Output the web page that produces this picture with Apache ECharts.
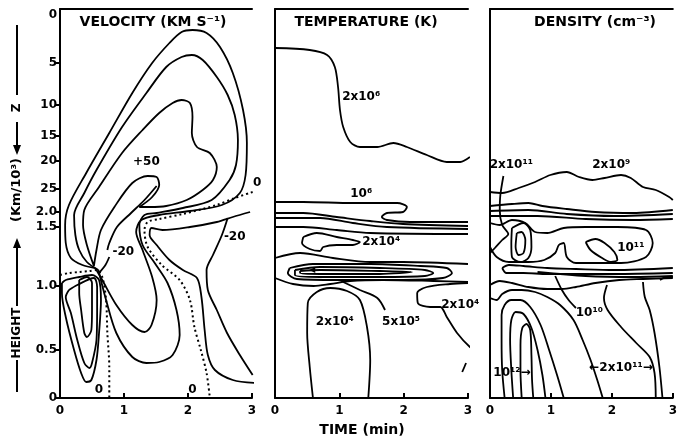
<!DOCTYPE html>
<html><head><meta charset="utf-8">
<script src="https://cdn.jsdelivr.net/npm/echarts@6/dist/echarts.min.js"></script>
<style>html,body{margin:0;padding:0;background:#fff}#c{width:680px;height:439px}</style>
</head><body><div id="c"></div>
<script>
// ---------- axis ticks ----------
const timeTicks = [0, 1, 2, 3];
// vertical coordinate (column units, bottom = 0); labels: height (km/10^3) below, Z above
const yTickPos    = [0, 48, 112, 171, 186, 209, 237, 262, 293, 335, 383];
const yTickLabels = ['0','0.5','1.0','1.5','2.0','25','20','15','10','5','0'];
const yTickMarks  = [0, 48, 112, 171, 186, 209, 237, 262, 293, 335];

// ---------- VELOCITY contours [time(min), column coord] ----------
const velA = [[0.55,130],[0.35,133],[0.17,140],[0.09,155],[0.08,173],[0.14,193],[0.41,225],[0.77,265],[1.13,305],[1.44,335],[1.71,355],[1.90,366],[2.07,368],[2.29,365],[2.50,351],[2.70,325],[2.86,288],[2.92,255],[2.90,223],[2.81,205],[2.53,193],[2.03,187],[1.55,183],[1.27,178],[1.19,166],[1.29,148],[1.44,121],[1.51,98],[1.43,73],[1.32,66],[1.13,73],[0.88,93],[0.66,118],[0.55,130]];
const velB = [[0.60,128],[0.42,136],[0.30,148],[0.24,163],[0.22,183],[0.38,205],[0.57,228],[0.97,271],[1.35,305],[1.66,331],[1.90,341],[2.06,343],[2.23,338],[2.45,321],[2.62,303],[2.73,283],[2.78,258],[2.75,233],[2.65,218],[2.37,198],[1.92,190],[1.51,185],[1.32,183],[1.24,173],[1.29,153],[1.48,135],[1.68,115],[1.82,88],[1.87,63],[1.76,43],[1.55,36],[1.35,35],[1.13,41],[0.88,65],[0.72,98],[0.60,128]];
const velPlus50 = [[0.53,132],[0.42,153],[0.36,173],[0.38,188],[0.61,211],[0.97,245],[1.29,268],[1.55,285],[1.76,295],[1.90,298],[2.03,295],[2.07,281],[2.06,265],[2.14,251],[2.34,245],[2.45,231],[2.39,218],[2.23,208],[1.98,198],[1.66,192],[1.40,191],[1.24,191],[1.44,201],[1.55,213],[1.51,221],[1.37,222],[1.13,215],[0.85,191],[0.64,168],[0.57,148],[0.53,132]];
const velM20a = [[1.51,212],[1.32,198],[1.11,185],[0.89,171],[0.77,155],[0.74,148]];
const velM20b = [[0.77,141],[0.71,133],[0.61,125]];
const velZeroUpper = [[3.01,206],[2.73,200],[2.45,193],[1.92,184],[1.55,179],[1.37,176],[1.32,168],[1.37,151],[1.59,133],[1.87,118],[2.03,98],[2.10,71],[2.20,48],[2.29,25],[2.34,1]];
const velE = [[2.97,186],[2.70,181],[2.45,176],[2.03,171],[1.60,168],[1.43,170],[1.40,163],[1.51,153],[1.71,138],[1.92,128],[2.14,120],[2.21,101],[2.26,68],[2.31,43],[2.42,28],[2.70,18],[3.05,15]];
const velM20right = [[2.62,180],[2.53,163],[2.39,143],[2.29,128],[2.31,108],[2.45,88],[2.61,65],[2.81,43],[3.01,23]];
const velLoopOut = [[0.03,115],[0.09,118],[0.30,121],[0.50,123],[0.61,118],[0.64,98],[0.61,65],[0.57,38],[0.49,18],[0.41,16],[0.33,25],[0.22,48],[0.09,81],[0.03,105],[0.03,115]];
const velLoopMid = [[0.14,108],[0.27,113],[0.53,120],[0.58,111],[0.58,88],[0.57,58],[0.50,35],[0.46,30],[0.38,35],[0.27,58],[0.17,85],[0.09,101],[0.14,108]];
const velLoopIn = [[0.30,118],[0.42,121],[0.50,115],[0.50,88],[0.49,68],[0.42,61],[0.38,65],[0.33,88],[0.30,105],[0.30,118]];
const velZeroLower = [[0.00,123],[0.14,125],[0.30,126],[0.46,127],[0.57,128],[0.66,121],[0.72,98],[0.74,65],[0.77,31],[0.77,1]];
const velBoundary = [[-0.64,199],[0,199]];
const velLabels = [[0.61,8,'0'],[2.07,8,'0'],[1.35,236,'+50'],[0.99,146,'-20'],[2.73,161,'-20'],[3.08,215,'0']];

// ---------- TEMPERATURE contours ----------
const tem2e6 = [[0,350],[0.54,348],[0.81,343],[0.93,331],[0.98,311],[1.01,288],[1.06,271],[1.17,256],[1.32,251],[1.59,251],[1.84,255],[2.05,251],[2.36,243],[2.67,236],[2.88,236],[3.03,241]];
const tem1e6 = [[0,196],[0.44,196],[1.21,195],[1.90,195],[2.05,191],[1.99,186],[1.74,185],[1.66,181],[1.74,178],[2.10,176],[3.00,176]];
const temB1 = [[0,185],[0.44,185],[0.96,181],[1.48,177],[1.99,174],[3.00,172]];
const temB2 = [[0,180],[0.70,180],[1.21,175],[1.74,171],[3.00,169]];
const temB3 = [[0,171],[0.44,171],[0.96,168],[1.48,165],[3.00,164]];
const temLoop2e4 = [[0.44,161],[0.65,165],[0.96,161],[1.21,158],[1.32,156],[1.21,153],[0.96,153],[0.75,151],[0.70,147],[0.54,149],[0.42,155],[0.44,161]];
const temB4 = [[0,140],[0.39,145],[0.90,140],[1.48,136],[1.99,136],[3.00,134]];
const temE1 = [[0.23,130],[0.59,134],[1.48,134],[2.26,132],[2.67,130],[2.75,125],[2.61,120],[1.99,118],[0.96,118],[0.34,119],[0.20,125],[0.23,130]];
const temE2 = [[0.31,128],[0.70,131],[1.63,130],[2.33,128],[2.46,125],[2.33,122],[1.63,121],[0.70,121],[0.31,123],[0.31,128]];
const temE3 = [[0.39,127],[0.70,128],[1.63,127],[2.13,126],[1.63,124],[0.70,124],[0.39,125],[0.39,127]];
const temB5 = [[0,120],[0.28,114],[0.60,112],[0.86,114],[1.17,117],[1.68,118],[2.46,117],[3.00,116]];
const tem5e5 = [[1.06,116],[1.32,108],[1.59,100],[1.71,88]];
const temDome = [[0.59,0],[0.54,31],[0.50,65],[0.51,95],[0.65,106],[0.86,110],[1.12,107],[1.32,98],[1.43,71],[1.48,38],[1.45,0]];
const temRight = [[3.00,115],[2.72,114],[2.36,111],[2.21,105],[2.22,95],[2.41,91],[2.57,91],[2.67,81],[2.83,65],[3.03,51],[3.16,46]];
const temDash = [[2.97,35],[2.91,26]];
const temLabels = [[1.34,301,'2x10⁶'],[1.34,204,'10⁶'],[1.65,156,'2x10⁴'],[0.93,76,'2x10⁴'],[1.96,76,'5x10⁵'],[2.88,93,'2x10⁴'],[0.58,128,'◂']];

// ---------- DENSITY contours ----------
const den2e9 = [[0,206],[0.20,205],[0.47,210],[0.74,216],[0.99,223],[1.26,226],[1.46,221],[1.68,218],[1.88,220],[2.15,223],[2.31,220],[2.51,211],[2.72,208],[2.94,201],[3.00,198]];
const den2e11 = [[0.22,222],[0.17,203],[0.16,188],[0.20,173],[0.30,164],[0.20,158],[0.08,150],[0,145]];
const denP1 = [[0,192],[0.36,194],[0.63,195],[0.86,192],[1.26,189],[1.73,186],[2.35,185],[3.00,188]];
const denP2 = [[0,187],[0.63,188],[1.26,184],[2.04,182],[3.00,184]];
const denP3 = [[0,182],[0.78,182],[1.57,179],[2.35,178],[3.00,179]];
const denBigLoop = [[0,175],[0.16,173],[0.36,178],[0.58,175],[0.74,166],[0.94,165],[1.21,170],[1.57,171],[2.09,171],[2.56,168],[2.67,155],[2.56,141],[2.15,135],[1.41,135],[1.26,141],[1.21,155],[1.13,153],[1.07,145],[0.89,138],[0.63,136],[0.31,136],[0.11,141],[0,151]];
const denOval1 = [[0.36,170],[0.55,175],[0.66,168],[0.68,151],[0.63,140],[0.50,136],[0.36,141],[0.35,155],[0.36,170]];
const denOval2 = [[0.44,165],[0.52,166],[0.58,158],[0.55,145],[0.47,143],[0.42,151],[0.44,165]];
const den1e11 = [[1.57,156],[1.73,159],[1.88,155],[2.04,146],[2.09,138],[1.99,136],[1.84,140],[1.65,148],[1.57,156]];
const denQ1 = [[0.20,130],[0.31,133],[0.55,132],[0.94,130],[1.41,129],[2.04,128],[3.00,130]];
const denQ2 = [[0.20,130],[0.27,125],[0.55,125],[0.94,124],[1.41,124],[2.04,124],[3.00,125]];
const denQ3 = [[0.78,126],[1.57,122],[2.35,121],[3.00,122]];
const denU = [[0,113],[0.16,117],[0.36,115],[0.63,111],[0.94,109],[1.18,109],[1.41,111],[1.73,115],[2.12,118],[2.51,119],[3.00,120]];
const den1e10 = [[1.07,122],[1.18,108],[1.29,98],[1.41,90]];
const denW = [[0,100],[0.11,98],[0.20,104],[0.36,108],[0.52,108],[0.74,106],[0.94,101],[1.15,93],[1.37,78],[1.52,58],[1.65,38],[1.76,18],[1.85,0]];
const denT1 = [[0.24,0],[0.20,28],[0.19,58],[0.19,83],[0.24,93],[0.35,98],[0.50,98],[0.66,91],[0.83,73],[0.97,48],[1.10,23],[1.21,0]];
const denT2 = [[0.38,0],[0.35,28],[0.33,58],[0.35,78],[0.42,86],[0.55,84],[0.68,70],[0.78,48],[0.86,23],[0.91,0]];
const denT3 = [[0.52,0],[0.50,28],[0.50,53],[0.53,70],[0.60,74],[0.66,68],[0.68,43],[0.69,18],[0.71,0]];
const denRb = [[1.92,113],[1.87,100],[1.93,88],[2.15,71],[2.40,55],[2.62,41],[2.70,25],[2.72,0]];
const denRc = [[2.51,116],[2.54,101],[2.62,88],[2.70,65],[2.78,31],[2.83,0]];
const denRd = [[2.79,118],[2.90,121],[3.00,121]];
const denLabels = [[0.35,233,'2x10¹¹'],[1.99,233,'2x10⁹'],[2.31,150,'10¹¹'],[1.63,85,'10¹⁰'],[0.36,25,'10¹²→'],[2.15,30,'←2x10¹¹→']];

// ---------- build ----------
const FONT = 'DejaVu Sans';
const panels = [
  { lines: [velA, velB, velPlus50, velM20a, velM20b, velE, velM20right, velLoopOut, velLoopMid, velLoopIn],
    dotted: [velZeroUpper, velZeroLower, velBoundary], labels: velLabels },
  { lines: [tem2e6, tem1e6, temB1, temB2, temB3, temLoop2e4, temB4, temE1, temE2, temE3, temB5, tem5e5, temDome, temRight, temDash],
    dotted: [], labels: temLabels },
  { lines: [den2e9, den2e11, denP1, denP2, denP3, denBigLoop, denOval1, denOval2, den1e11, denQ1, denQ2, denQ3, denU, den1e10, denW, denT1, denT2, denT3, denRb, denRc, denRd],
    dotted: [], labels: denLabels }
];
const grids = [
  {left: 60, top: 9, width: 192, height: 389},
  {left: 275, top: 9, width: 193, height: 389},
  {left: 490, top: 9, width: 191, height: 389}
];
const axisLineStyle = {color: '#000', width: 2};
const xAxes = [], yAxes = [], series = [];
grids.forEach((g, i) => {
  xAxes.push({gridIndex: i, type: 'value', min: timeTicks[0], max: timeTicks[timeTicks.length-1], interval: 1,
    axisLine: {show: true, onZero: false, lineStyle: axisLineStyle},
    axisTick: {show: true, inside: true, length: 5, lineStyle: axisLineStyle},
    axisLabel: {margin: 7, color: '#000', fontFamily: FONT, fontWeight: 'bold', fontSize: 12},
    splitLine: {show: false}});
  xAxes.push({gridIndex: i, type: 'value', position: 'top', min: 0, max: 3,
    axisLine: {show: true, onZero: false, lineStyle: axisLineStyle},
    axisTick: {show: false}, axisLabel: {show: false}, splitLine: {show: false}});
  yAxes.push({gridIndex: i, type: 'value', min: 0, max: 389,
    axisLine: {show: true, onZero: false, lineStyle: axisLineStyle},
    axisTick: i === 0 ? {show: true, customValues: yTickMarks, length: 5, lineStyle: axisLineStyle} : {show: false},
    axisLabel: i === 0 ? {show: true, customValues: yTickPos, margin: 3,
      formatter: v => { const k = yTickPos.indexOf(v); return k >= 0 ? yTickLabels[k] : ''; },
      color: '#000', fontFamily: FONT, fontWeight: 'bold', fontSize: 12} : {show: false},
    splitLine: {show: false}});
  const p = panels[i];
  p.lines.forEach(d => series.push({type: 'line', xAxisIndex: 2*i, yAxisIndex: i, data: d,
    symbol: 'none', smooth: 0.3, clip: false, silent: true,
    lineStyle: {color: '#000', width: 1.8}}));
  p.dotted.forEach(d => series.push({type: 'line', xAxisIndex: 2*i, yAxisIndex: i, data: d,
    symbol: 'none', smooth: 0.3, clip: false, silent: true,
    lineStyle: {color: '#000', width: 2, type: [2, 3]}}));
  series.push({type: 'scatter', xAxisIndex: 2*i, yAxisIndex: i, clip: false, silent: true,
    symbolSize: 0, itemStyle: {color: '#000'},
    data: p.labels.map(l => ({value: [l[0], l[1]], name: l[2]})),
    label: {show: true, position: [0, 0], align: 'center', verticalAlign: 'middle',
      formatter: '{b}', color: '#000', opacity: 1, textBorderWidth: 0,
      fontFamily: FONT, fontWeight: 'bold', fontSize: 12}});
});

const titleFont = 'bold 14px "DejaVu Sans"';
const graphic = [
  {type: 'text', x: 153, y: 22, style: {text: 'VELOCITY (KM S⁻¹)', font: titleFont, fill: '#000', align: 'center', verticalAlign: 'middle'}},
  {type: 'text', x: 366, y: 22, style: {text: 'TEMPERATURE (K)', font: titleFont, fill: '#000', align: 'center', verticalAlign: 'middle'}},
  {type: 'text', x: 595, y: 22, style: {text: 'DENSITY (cm⁻³)', font: titleFont, fill: '#000', align: 'center', verticalAlign: 'middle'}},
  {type: 'text', x: 362, y: 430, style: {text: 'TIME (min)', font: titleFont, fill: '#000', align: 'center', verticalAlign: 'middle'}},
  // vertical axis title: —HEIGHT—→ (Km/10³) ←—Z—
  {type: 'line', shape: {x1: 17, y1: 392, x2: 17, y2: 360}, style: {stroke: '#000', lineWidth: 2}},
  {type: 'text', x: 17, y: 333, rotation: Math.PI/2, style: {text: 'HEIGHT', font: 'bold 12px "DejaVu Sans"', fill: '#000', align: 'center', verticalAlign: 'middle'}},
  {type: 'line', shape: {x1: 17, y1: 306, x2: 17, y2: 246}, style: {stroke: '#000', lineWidth: 2}},
  {type: 'polygon', shape: {points: [[17, 238], [13, 248], [21, 248]]}, style: {fill: '#000'}},
  {type: 'text', x: 17, y: 190, rotation: Math.PI/2, style: {text: '(Km/10³)', font: 'bold 13px "DejaVu Sans"', fill: '#000', align: 'center', verticalAlign: 'middle'}},
  {type: 'polygon', shape: {points: [[17, 155], [13, 145], [21, 145]]}, style: {fill: '#000'}},
  {type: 'line', shape: {x1: 17, y1: 146, x2: 17, y2: 122}, style: {stroke: '#000', lineWidth: 2}},
  {type: 'text', x: 17, y: 108, rotation: Math.PI/2, style: {text: 'Z', font: 'bold 12px "DejaVu Sans"', fill: '#000', align: 'center', verticalAlign: 'middle'}},
  {type: 'line', shape: {x1: 17, y1: 95, x2: 17, y2: 25}, style: {stroke: '#000', lineWidth: 2}}
];

const chart = echarts.init(document.getElementById('c'), null, {renderer: 'canvas'});
chart.setOption({
  animation: false,
  backgroundColor: '#fff',
  grid: grids,
  xAxis: xAxes,
  yAxis: yAxes,
  series: series,
  graphic: graphic
});
</script></body></html>
